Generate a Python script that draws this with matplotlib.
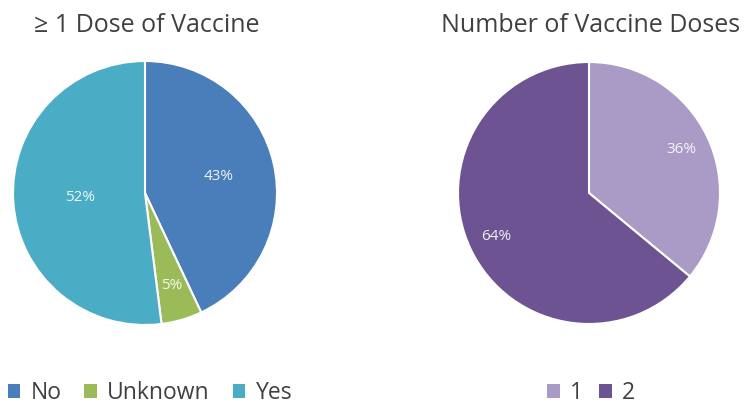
import numpy as np
import matplotlib
matplotlib.use('Agg')
import matplotlib.pyplot as plt

plt.rcParams['font.family'] = ['Open Sans', 'DejaVu Sans']

# vaccine status
status_labels = ['No', 'Unknown', 'Yes']
status_pct = [43, 5, 52]
status_colors = ['#4a7ebb', '#9bbb59', '#4bacc6']
status_label_r = [0.57, 0.73, 0.49]

# number of doses among vaccinated
dose_labels = ['1', '2']
dose_pct = [36, 64]
dose_colors = ['#a99bc6', '#6d5392']
dose_label_r = [0.78, 0.78]

W, H = 750, 404
fig = plt.figure(figsize=(W / 100, H / 100), dpi=100)
text_color = '#404040'


def draw_pie(cx, cy, r, values, colors, label_r):
    ax = fig.add_axes([(cx - r) / W, (H - cy - r) / H, 2 * r / W, 2 * r / H])
    wedges, _ = ax.pie(values, colors=colors, startangle=90, counterclock=False,
                       wedgeprops=dict(edgecolor='white', linewidth=1.5))
    for w, v, lr in zip(wedges, values, label_r):
        mid = np.deg2rad((w.theta1 + w.theta2) / 2)
        ax.text(lr * np.cos(mid), lr * np.sin(mid), '%d%%' % v, color='white',
                ha='center', va='center', fontsize=11, alpha=0.9)
    ax.set_xlim(-1, 1)
    ax.set_ylim(-1, 1)
    ax.set_aspect('equal')
    return wedges


w1 = draw_pie(145, 193, 132, status_pct, status_colors, status_label_r)
w2 = draw_pie(589, 193, 131, dose_pct, dose_colors, dose_label_r)

fig.text(147 / W, 1 - 25 / H, '\u2265 1 Dose of Vaccine', ha='center', va='center',
         fontsize=18, color=text_color)
fig.text(591 / W, 1 - 25 / H, 'Number of Vaccine Doses', ha='center', va='center',
         fontsize=18, color=text_color)

leg_kw = dict(frameon=False, handlelength=0.55, handleheight=0.55,
              handletextpad=0.45, fontsize=16.5, labelcolor=text_color,
              loc='center', borderpad=0)
l1 = fig.legend(w1, status_labels, ncol=3, columnspacing=1.0,
                bbox_to_anchor=(150 / W, 1 - 393 / H), **leg_kw)
l2 = fig.legend(w2, dose_labels, ncol=2, columnspacing=0.7,
                bbox_to_anchor=(591 / W, 1 - 393 / H), **leg_kw)
for h in l1.legend_handles + l2.legend_handles:
    h.set_linewidth(0)

fig.savefig('out.png', dpi=100, facecolor='white')
